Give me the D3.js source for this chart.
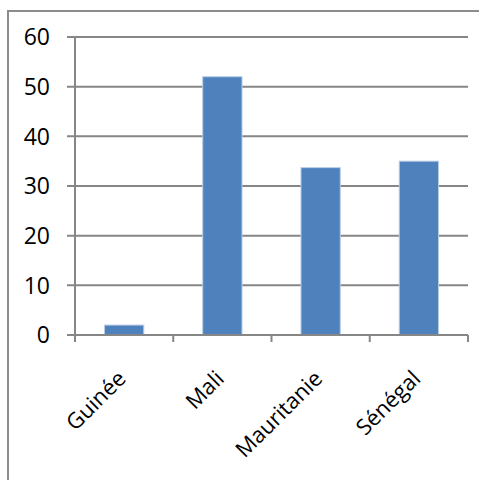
<!DOCTYPE html>
<html>
<meta charset="utf-8">
<style>
  body { margin: 0; background: #fff; }
  text { font-family: "Open Sans", sans-serif; fill: #000; }
  .grid line { stroke: #868686; stroke-width: 2; }
</style>
<body>
<script src="https://cdn.jsdelivr.net/npm/d3@7"></script>
<script>
var categories = ["Guinée", "Mali", "Mauritanie", "Sénégal"];
var values = [2, 52, 33.7, 35];
var yTicks = [0, 10, 20, 30, 40, 50, 60];

var width = 479, height = 480;
var x0 = 75, x1 = 468, yTop = 37, yBottom = 335;

var svg = d3.select("body").append("svg")
    .attr("width", width)
    .attr("height", height);

// chart frame (only top/left visible in the crop)
svg.append("rect")
    .attr("x", 8).attr("y", 11)
    .attr("width", 600).attr("height", 600)
    .attr("fill", "none")
    .attr("stroke", "#8c8c8c")
    .attr("stroke-width", 2);

var x = d3.scaleBand().domain(categories).range([x0, x1]).paddingInner(0.6).paddingOuter(0.3);
var xb = d3.scaleBand().domain(categories).range([x0, x1]);
var y = d3.scaleLinear().domain([0, 60]).range([yBottom, yTop]);

// gridlines
svg.append("g").attr("class", "grid")
  .selectAll("line")
  .data(yTicks)
  .enter().append("line")
    .attr("x1", x0 - 8).attr("x2", x1)
    .attr("y1", function(d) { return y(d); })
    .attr("y2", function(d) { return y(d); });

// y labels
svg.append("g")
  .selectAll("text")
  .data(yTicks)
  .enter().append("text")
    .attr("x", 50)
    .attr("y", function(d) { return y(d); })
    .attr("dy", "0.36em")
    .attr("text-anchor", "end")
    .style("font-size", "23px")
    .text(function(d) { return d; });

// bars
svg.append("g")
  .selectAll("rect")
  .data(values)
  .enter().append("rect")
    .attr("x", function(d, i) { return x(categories[i]); })
    .attr("width", x.bandwidth())
    .attr("y", function(d) { return y(d); })
    .attr("height", function(d) { return y(0) - y(d); })
    .attr("fill", "#4f81bd")
    .attr("stroke", "#b9cde5")
    .attr("stroke-width", 1);

// y axis line
svg.append("line")
    .attr("x1", x0).attr("x2", x0)
    .attr("y1", yTop).attr("y2", yBottom)
    .attr("stroke", "#868686").attr("stroke-width", 2);

// x axis with tick marks
var xTicks = categories.map(function(c) { return xb(c); }).concat([x1]);
svg.append("line")
    .attr("x1", x0).attr("x2", x1)
    .attr("y1", yBottom).attr("y2", yBottom)
    .attr("stroke", "#868686").attr("stroke-width", 2);
svg.append("g")
  .selectAll("line")
  .data(xTicks)
  .enter().append("line")
    .attr("x1", function(d) { return d; })
    .attr("x2", function(d) { return d; })
    .attr("y1", yBottom).attr("y2", yBottom + 7)
    .attr("stroke", "#868686").attr("stroke-width", 2);

// category labels, rotated
svg.append("g")
  .selectAll("text")
  .data(categories)
  .enter().append("text")
    .attr("text-anchor", "end")
    .style("font-size", "22px")
    .attr("transform", function(d) {
      return "translate(" + (xb(d) + xb.bandwidth() / 2 + 3) + "," + (yBottom + 45) + ") rotate(-45)";
    })
    .text(function(d) { return d; });
</script>
</body>
</html>
